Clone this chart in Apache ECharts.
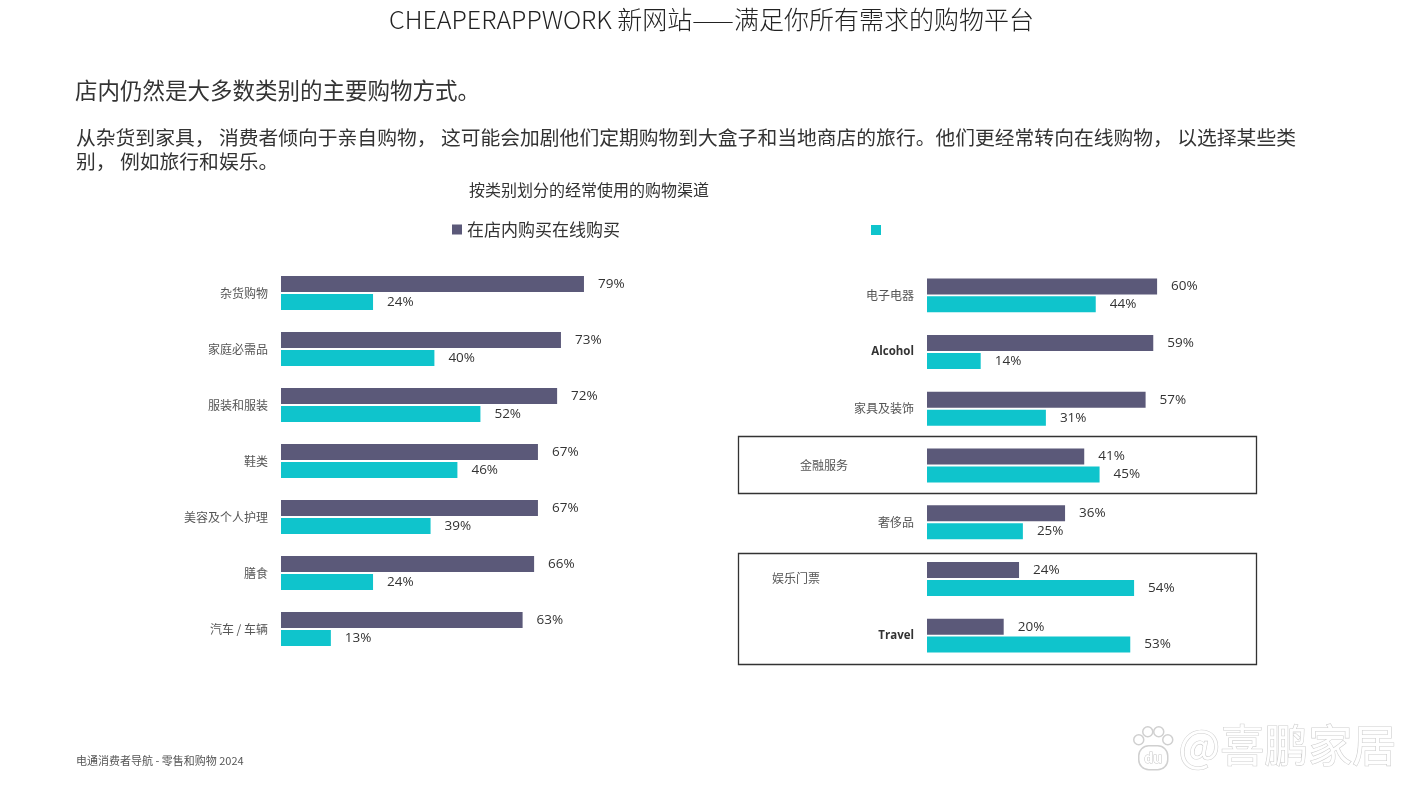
<!DOCTYPE html>
<html>
<head>
<meta charset="utf-8">
<script src="https://cdn.jsdelivr.net/npm/echarts@6/dist/echarts.min.js"></script>
<style>
html,body{margin:0;padding:0;background:#fff;}
#main{width:1423px;height:800px;}
</style>
</head>
<body>
<div id="main"></div>
<script>
// ---- data ----
const leftCategories = ['杂货购物', '家庭必需品', '服装和服装', '鞋类', '美容及个人护理', '膳食', '汽车 / 车辆'];
const leftInStore = [79, 73, 72, 67, 67, 66, 63];
const leftOnline = [24, 40, 52, 46, 39, 24, 13];

const rightCategories = ['电子电器', 'Alcohol', '家具及装饰', '金融服务', '奢侈品', '娱乐门票', 'Travel'];
const rightInStore = [60, 59, 57, 41, 36, 24, 20];
const rightOnline = [44, 14, 31, 45, 25, 54, 53];

const seriesNames = ['在店内购买', '在线购买'];
const legendText = '在店内购买在线购买';

const pageTitle = 'CHEAPERAPPWORK 新网站——满足你所有需求的购物平台';
const heading = '店内仍然是大多数类别的主要购物方式。';
const paraLine1 = '从杂货到家具， 消费者倾向于亲自购物， 这可能会加剧他们定期购物到大盒子和当地商店的旅行。他们更经常转向在线购物， 以选择某些类';
const paraLine2 = '别， 例如旅行和娱乐。';
const chartTitle = '按类别划分的经常使用的购物渠道';
const footer = '电通消费者导航 - 零售和购物 2024';
const watermark = '@喜鹏家居';

// ---- styles ----
const DARK = '#5b5979';
const TEAL = '#0fc4cc';
const CJK = '"Noto Sans CJK SC", "Noto Sans", sans-serif';
const LAT = '"Open Sans", "Noto Sans", sans-serif';

const chart = echarts.init(document.getElementById('main'));

function catLabel(value) {
  if (value === 'Alcohol' || value === 'Travel') return '{b|' + value + '}';
  if (value === '金融服务') return '{s1|' + value + '}';
  if (value === '娱乐门票') return '{s2|' + value + '}';
  return '{n|' + value + '}';
}
const catRich = {
  n: {fontFamily: CJK, fontSize: 12, color: '#555'},
  b: {fontFamily: LAT, fontSize: 11.5, fontWeight: 'bold', color: '#333'},
  s1: {fontFamily: CJK, fontSize: 12, color: '#555', padding: [0, 66, 0, 0]},
  s2: {fontFamily: CJK, fontSize: 12, color: '#555', padding: [0, 94, 0, 0]}
};

function yAxisFor(gridIndex, cats) {
  return {
    type: 'category', gridIndex: gridIndex, data: cats, inverse: true,
    axisLine: {show: false}, axisTick: {show: false}, splitLine: {show: false},
    axisLabel: {margin: 13, formatter: catLabel, rich: catRich}
  };
}
function xAxisFor(gridIndex) {
  return {
    type: 'value', gridIndex: gridIndex, min: 0, max: 100, show: false,
    splitLine: {show: false}
  };
}
const valLabel = {
  show: true, position: 'right', distance: 14,
  formatter: p => p.value + '%',
  fontFamily: LAT, fontSize: 13.5, color: '#333'
};
function barSeries(name, idx, data, color) {
  return {
    name: name, type: 'bar', xAxisIndex: idx, yAxisIndex: idx, data: data,
    barWidth: 16, barGap: '12%',
    itemStyle: {color: color},
    label: valLabel,
    emphasis: {disabled: true}
  };
}

const option = {
  backgroundColor: '#fff',
  animation: false,
  title: [
    {text: pageTitle, left: 'center', top: 7, padding: 0,
     textStyle: {fontFamily: CJK, fontSize: 25, fontWeight: 300, color: '#222'}},
    {text: heading, left: 75, top: 79, padding: 0,
     textStyle: {fontFamily: CJK, fontSize: 22.5, fontWeight: 'normal', color: '#333'}},
    {text: chartTitle, left: 469, top: 182, padding: 0,
     textStyle: {fontFamily: CJK, fontSize: 16, fontWeight: 'normal', color: '#333'}}
  ],
  legend: [
    {data: [seriesNames[0]], left: 452, top: 221, padding: 0, itemWidth: 10, itemHeight: 10, itemGap: 5,
     icon: 'rect', formatter: () => legendText,
     textStyle: {fontFamily: CJK, fontSize: 17, color: '#333'}},
    {data: [seriesNames[1]], left: 871, top: 225, padding: 0, itemWidth: 10, itemHeight: 10,
     icon: 'rect', formatter: () => '',
     textStyle: {fontFamily: CJK, fontSize: 16, color: '#333'}}
  ],
  grid: [
    {left: 281, width: 383.5, top: 265, height: 392},
    {left: 927, width: 383.5, top: 267, height: 397}
  ],
  xAxis: [xAxisFor(0), xAxisFor(1)],
  yAxis: [yAxisFor(0, leftCategories), yAxisFor(1, rightCategories)],
  series: [
    barSeries(seriesNames[0], 0, leftInStore, DARK),
    barSeries(seriesNames[1], 0, leftOnline, TEAL),
    barSeries(seriesNames[0], 1, rightInStore, DARK),
    barSeries(seriesNames[1], 1, rightOnline, TEAL)
  ],
  graphic: [
    {type: 'text', left: 76, top: 128, style: {text: paraLine1, font: '19.8px ' + CJK, fill: '#333'}},
    {type: 'text', left: 76, top: 152, style: {text: paraLine2, font: '19.8px ' + CJK, fill: '#333'}},
    {type: 'rect', shape: {x: 738.5, y: 436.5, width: 518, height: 57},
     style: {fill: 'none', stroke: '#333', lineWidth: 1.3}},
    {type: 'rect', shape: {x: 738.5, y: 553.5, width: 518, height: 111},
     style: {fill: 'none', stroke: '#333', lineWidth: 1.3}},
    {type: 'text', left: 76, top: 755, style: {text: footer, font: '11px ' + CJK, fill: '#555'}},
    // watermark
    {type: 'group', left: 1133, top: 726, children: [
      {type: 'circle', shape: {cx: 8, cy: 14, r: 5}, style: {fill: '#fff', stroke: '#d0d0d0', lineWidth: 1.5}},
      {type: 'circle', shape: {cx: 17, cy: 6, r: 5}, style: {fill: '#fff', stroke: '#d0d0d0', lineWidth: 1.5}},
      {type: 'circle', shape: {cx: 28, cy: 6, r: 5}, style: {fill: '#fff', stroke: '#d0d0d0', lineWidth: 1.5}},
      {type: 'circle', shape: {cx: 37, cy: 14, r: 5}, style: {fill: '#fff', stroke: '#d0d0d0', lineWidth: 1.5}},
      {type: 'rect', shape: {x: 8, y: 20, width: 29, height: 24, r: 10}, style: {fill: '#fff', stroke: '#d0d0d0', lineWidth: 1.5}},
      {type: 'text', x: 22.5, y: 33, style: {text: 'du', font: 'bold 14px ' + LAT, fill: '#fff', stroke: '#c8c8c8', lineWidth: 1, align: 'center', verticalAlign: 'middle'}}
    ]},
    {type: 'text', left: 1178, top: 723, style: {text: watermark, font: '44px ' + CJK, fill: '#fff', stroke: '#cfcfcf', lineWidth: 1.2}}
  ]
};
chart.setOption(option);
</script>
</body>
</html>
